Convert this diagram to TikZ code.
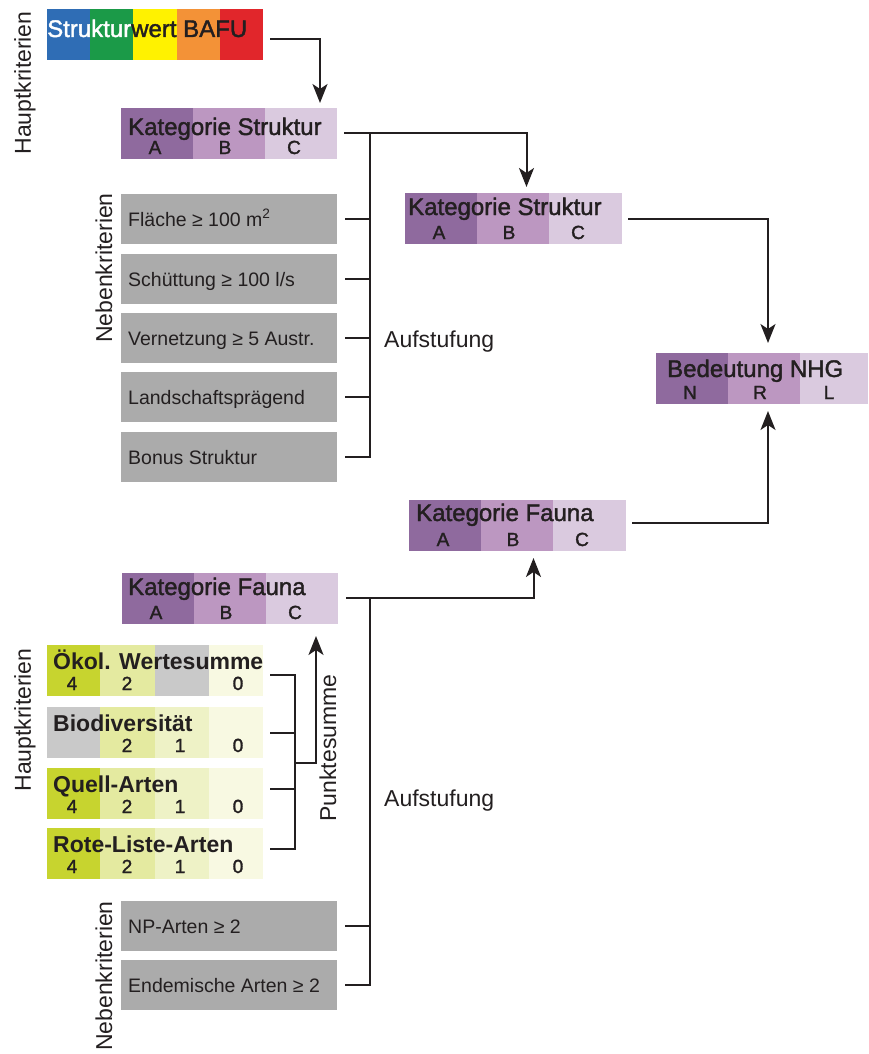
\documentclass[tikz,border=0pt]{standalone}
\usepackage{fontspec}
\setmainfont{Liberation Sans}
\newfontfamily\medsans{Liberation Sans}[FakeBold=1.6]
\usetikzlibrary{arrows.meta}
\definecolor{ink}{HTML}{231F20}
\definecolor{sblue}{HTML}{2F6DB5}
\definecolor{sgreen}{HTML}{1B9A48}
\definecolor{syellow}{HTML}{FFF200}
\definecolor{sorange}{HTML}{F39237}
\definecolor{sred}{HTML}{E1262B}
\definecolor{pa}{HTML}{8F6A9E}
\definecolor{pb}{HTML}{BC97C1}
\definecolor{pc}{HTML}{DACADF}
\definecolor{gbox}{HTML}{ABABAB}
\definecolor{ggray}{HTML}{C9C9C9}
\definecolor{gdark}{HTML}{C7D42F}
\definecolor{gmid}{HTML}{E4EAA0}
\definecolor{glight}{HTML}{EEF2C6}
\definecolor{gvlight}{HTML}{F8F9E2}
\newcommand{\fsz}[1]{\fontsize{#1}{#1}\selectfont}
% name, x, y, width, title, A, B, C, title baseline start
\newcommand{\catbox}[9]{%
  \fill[pa] (#2,#3) rectangle ++(72,51);
  \fill[pb] ({#2+72},#3) rectangle ++(72,51);
  \fill[pc] ({#2+144},#3) rectangle ++({#4-144},51);
  \node[box,minimum width=#4pt,minimum height=51pt] (#1) at (#2,#3) {};
  \node[title] (#1-t) at (#9) {#5};
  \node[letter] (#1-a) at ({#2+34},{#3+46}) {#6};
  \node[letter] (#1-b) at ({#2+104},{#3+46}) {#7};
  \node[letter] (#1-c) at ({#2+173},{#3+46}) {#8};
}
% name, y, four colours
\newcommand{\greenbar}[6]{%
  \fill[#3] (47,#2) rectangle ++(53,51);
  \fill[#4] (100,#2) rectangle ++(55,51);
  \fill[#5] (155,#2) rectangle ++(54,51);
  \fill[#6] (209,#2) rectangle ++(54,51);
  \node[box,minimum width=216pt,minimum height=51pt] (#1) at (47,#2) {};
}
% name, y, text
\newcommand{\graybox}[3]{%
  \node[box,fill=gbox,minimum width=216pt,minimum height=50pt] (#1) at (121,#2) {};
  \node[glabel] (#1-t) at (128,{#2+32}) {#3};
}
\begin{document}
\begin{tikzpicture}[x=1pt,y=-1pt,
  box/.style={rectangle,inner sep=0pt,outer sep=0pt,anchor=north west},
  title/.style={inner sep=0pt,anchor=base west,text=ink,font=\fsz{24}\medsans},
  letter/.style={inner sep=0pt,anchor=base,text=ink,font=\fsz{19}\medsans},
  glabel/.style={inner sep=0pt,anchor=base west,text=ink,font=\fsz{19.5}},
  gtitle/.style={inner sep=0pt,anchor=base west,text=ink,font=\fsz{23}\bfseries},
  gnum/.style={inner sep=0pt,anchor=base,text=ink,font=\fsz{19}\medsans},
  vlab/.style={rotate=90,inner sep=0pt,text=ink,font=\fsz{23}},
  side/.style={inner sep=0pt,anchor=base west,text=ink,font=\fsz{23}},
  conn/.style={line width=2pt,draw=ink},
  arr/.style={conn,-{Stealth[length=19pt,width=15pt,inset=5pt]}},
]
\useasboundingbox (0,0) rectangle (868,1054);
\fill[white] (0,0) rectangle (868,1054);

% ---------- Strukturwert BAFU
\fill[sblue]   (47,9) rectangle ++(43.2,51);
\fill[sgreen]  (90.2,9) rectangle ++(43.2,51);
\fill[syellow] (133.4,9) rectangle ++(43.2,51);
\fill[sorange] (176.6,9) rectangle ++(43.2,51);
\fill[sred]    (219.8,9) rectangle ++(43.2,51);
\node[box,minimum width=216pt,minimum height=51pt] (sw) at (47,9) {};
\node[title] (sw-t) at (47,37) {\textcolor{white}{Struktur}wert BAFU};

% ---------- category boxes
\catbox{ks1}{121}{108}{216}{Kategorie Struktur}{A}{B}{C}{128,135}
\catbox{ks2}{405}{193}{217}{Kategorie Struktur}{A}{B}{C}{408,215}
\catbox{bed}{656}{353}{212}{Bedeutung NHG}{N}{R}{L}{667,377}
\catbox{kf1}{122}{573}{216}{Kategorie Fauna}{A}{B}{C}{128,595}
\catbox{kf2}{409}{500}{217}{Kategorie Fauna}{A}{B}{C}{416,521}

% ---------- gray boxes (Struktur)
\graybox{g1}{194}{Fläche ≥ 100 m\textsuperscript{2}}
\graybox{g2}{254}{Schüttung ≥ 100 l/s}
\graybox{g3}{313}{Vernetzung ≥ 5 Austr.}
\graybox{g4}{372}{Landschaftsprägend}
\graybox{g5}{432}{Bonus Struktur}

% ---------- gray boxes (Fauna)
\graybox{n1}{901}{NP-Arten ≥ 2}
\graybox{n2}{960}{Endemische Arten ≥ 2}

% ---------- green criteria boxes
\greenbar{oek}{645}{gdark}{gmid}{ggray}{gvlight}
\node[gtitle] (oek-t) at (53,669) {Ökol. Wertesumme};
\node[gnum] (oek-4) at (72,690) {4};
\node[gnum] (oek-2) at (127,690) {2};
\node[gnum] (oek-0) at (238,690) {0};

\greenbar{bio}{707}{ggray}{gmid}{glight}{gvlight}
\node[gtitle] (bio-t) at (53,731) {Biodiversität};
\node[gnum] (bio-2) at (127,752) {2};
\node[gnum] (bio-1) at (180,752) {1};
\node[gnum] (bio-0) at (238,752) {0};

\greenbar{que}{768}{gdark}{gmid}{glight}{gvlight}
\node[gtitle] (que-t) at (53,792) {Quell-Arten};
\node[gnum] (que-4) at (72,813) {4};
\node[gnum] (que-2) at (127,813) {2};
\node[gnum] (que-1) at (180,813) {1};
\node[gnum] (que-0) at (238,813) {0};

\greenbar{rot}{828}{gdark}{gmid}{glight}{gvlight}
\node[gtitle] (rot-t) at (53,852) {Rote-Liste-Arten};
\node[gnum] (rot-4) at (72,873) {4};
\node[gnum] (rot-2) at (127,873) {2};
\node[gnum] (rot-1) at (180,873) {1};
\node[gnum] (rot-0) at (238,873) {0};

% ---------- side labels
\node[vlab] (hk1) at (25,83) {Hauptkriterien};
\node[vlab] (nk1) at (104,268) {Nebenkriterien};
\node[vlab] (hk2) at (25,720) {Hauptkriterien};
\node[vlab] (nk2) at (104,976) {Nebenkriterien};
\node[vlab] (pks) at (328,748) {Punktesumme};
\node[side] (auf1) at (384,347) {Aufstufung};
\node[side] (auf2) at (384,806) {Aufstufung};

% ---------- connectors
\draw[arr] ([xshift=7pt,yshift=-5pt]sw.east) -| ([xshift=91pt,yshift=5pt]ks1.north);
\draw[arr] ([xshift=7pt,yshift=0.5pt]ks1.east) -| ([xshift=13pt,yshift=6pt]ks2.north);
\draw[arr] ([xshift=6pt]ks2.east) -| ([xshift=6pt,yshift=10pt]bed.north);
\draw[arr] ([xshift=6pt,yshift=3pt]kf2.east) -| ([xshift=6pt,yshift=-7pt]bed.south);
\draw[arr] ([xshift=8pt,yshift=0.5pt]kf1.east) -| ([xshift=16pt,yshift=-7pt]kf2.south);

% upper bracket (Aufstufung Struktur)
\draw[conn] ([xshift=33pt,yshift=0.5pt]ks1.east) |- ([xshift=8pt]g5.east);
\foreach \g in {g1,g2,g3,g4}
  \draw[conn] ([xshift=8pt]\g.east) -- ([xshift=33pt]\g.east);

% lower bracket (Aufstufung Fauna)
\draw[conn] ([xshift=32pt,yshift=0.5pt]kf1.east) |- ([xshift=8pt]n2.east);
\draw[conn] ([xshift=8pt]n1.east) -- ([xshift=33pt]n1.east);

% Punktesumme bracket
\coordinate (gbbot) at (295,848.5);
\coordinate (gbmid) at (295,763);
\draw[conn] ([xshift=7pt,yshift=-4pt]oek.east) -| (gbbot) -- ([xshift=7pt,yshift=5pt]rot.east);
\draw[conn] ([xshift=7pt]bio.east) -- ++(25,0);
\draw[conn] ([xshift=7pt,yshift=5pt]que.east) -- ++(25,0);
\draw[arr] (gbmid) -| ([xshift=86pt,yshift=-12pt]kf1.south);
\end{tikzpicture}
\end{document}
